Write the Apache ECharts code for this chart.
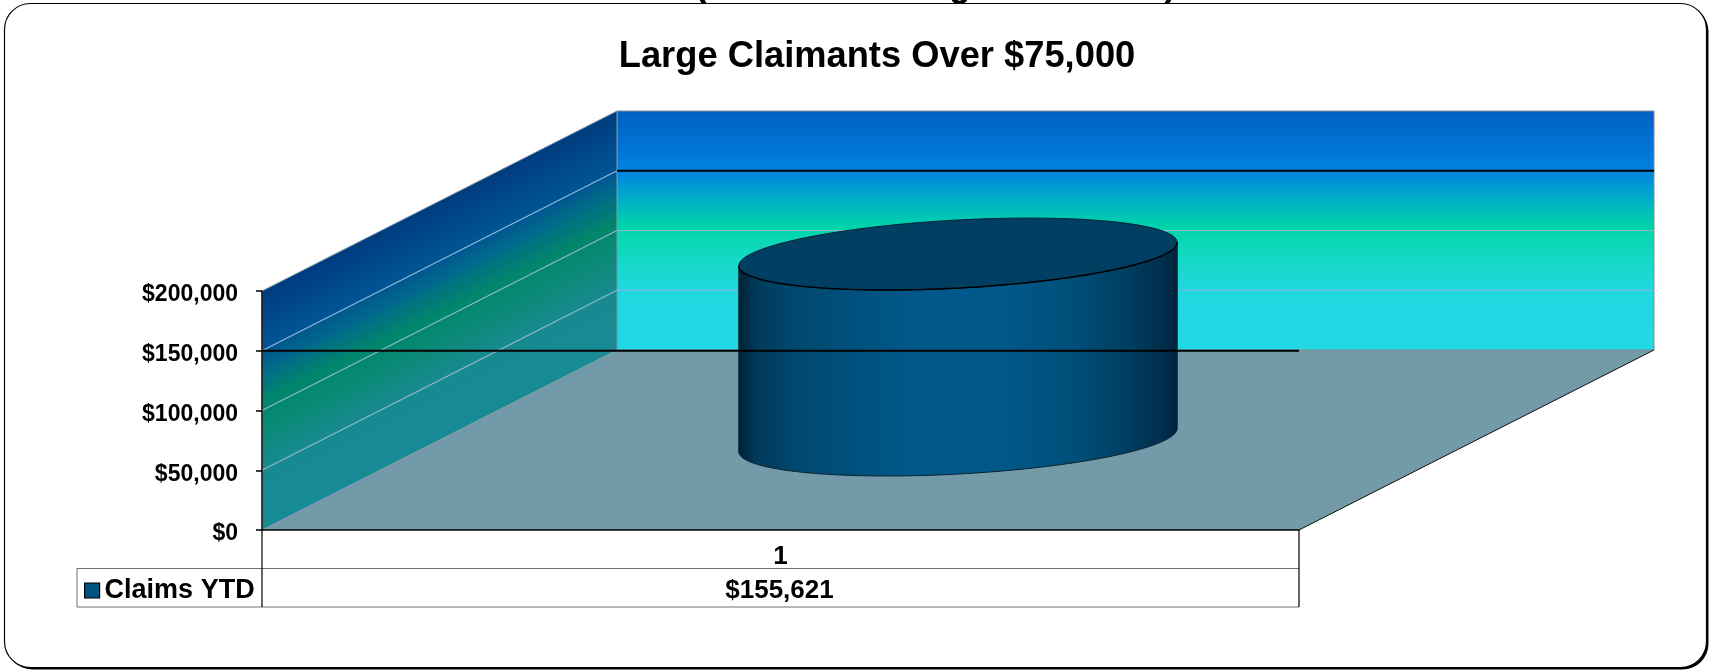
<!DOCTYPE html>
<html>
<head>
<meta charset="utf-8">
<title>Large Claimants Over $75,000</title>
<script src="https://cdn.jsdelivr.net/npm/echarts@6/dist/echarts.min.js"></script>
<style>
    html, body {margin: 0; padding: 0; background: #fff;}
    #chart {width: 1709px; height: 670px;}
</style>
</head>
<body>
<div id="chart"></div>
<script>
const chartTitle = 'Large Claimants Over $75,000';
const categories = ['1'];
const seriesName = 'Claims YTD';
const claimsYtd = [155621];
const yTicks = [0, 50000, 100000, 150000, 200000];
const darkTick = 150000;

const FONT = '"Liberation Sans", Arial, sans-serif';
// how far the back wall sits from the front plane, in px
const DEPTH_X = 355;
const DEPTH_Y = -180;
const ROW_H = 38.5;

const money = (v) => '$' + v.toLocaleString('en-US');

/**one-off: backdrop of the 3d box, it only needs the axes to place itself*/
function renderWalls(params, api) {
    const g = params.coordSys;
    const left = g.x, right = g.x + g.width, bottom = g.y + g.height, top = g.y;
    const back = (x, y) => [x + DEPTH_X, y + DEPTH_Y];
    const children = [];

    children.push({
        type: 'polygon',
        shape: {points: [[left, bottom], [right, bottom], back(right, bottom), back(left, bottom)]},
        style: {fill: '#729aa8'}
    });
    children.push({
        type: 'polygon',
        shape: {points: [back(left, top), back(right, top), back(right, bottom), back(left, bottom)]},
        style: {
            stroke: '#8a8a8a',
            lineWidth: 1,
            fill: {
                type: 'linear', global: true,
                x: 0, y: top + DEPTH_Y, x2: 0, y2: bottom + DEPTH_Y,
                colorStops: [
                    {offset: 0, color: '#0060c2'},
                    {offset: 0.25, color: '#0082e2'},
                    {offset: 0.3, color: '#0094d8'},
                    {offset: 0.39, color: '#00b6c4'},
                    {offset: 0.49, color: '#00d5a8'},
                    {offset: 0.55, color: '#0cd8b8'},
                    {offset: 0.65, color: '#18d8cc'},
                    {offset: 0.75, color: '#20d8e0'},
                    {offset: 1, color: '#22d8e4'}
                ]
            }
        }
    });
    // side wall: the gradient runs square to its slanted edges
    const edge = Math.sqrt(DEPTH_X * DEPTH_X + DEPTH_Y * DEPTH_Y);
    const span = g.height * DEPTH_X / edge;
    children.push({
        type: 'polygon',
        shape: {points: [[left, top], back(left, top), back(left, bottom), [left, bottom]]},
        style: {
            stroke: '#7f9aae',
            lineWidth: 1,
            fill: {
                type: 'linear', global: true,
                x: left, y: top,
                x2: left - DEPTH_Y / edge * span, y2: top + DEPTH_X / edge * span,
                colorStops: [
                    {offset: 0, color: '#003c7e'},
                    {offset: 0.24, color: '#005494'},
                    {offset: 0.34, color: '#006c88'},
                    {offset: 0.47, color: '#00876a'},
                    {offset: 0.6, color: '#0b8a78'},
                    {offset: 0.75, color: '#178a90'},
                    {offset: 1, color: '#188a94'}
                ]
            }
        }
    });

    yTicks.forEach((tick) => {
        if (tick === 0 || tick === yTicks[yTicks.length - 1]) {
            return;
        }
        const y = api.coord([0, tick])[1];
        const b = back(left, y);
        children.push({
            type: 'line',
            shape: {x1: left, y1: y, x2: b[0], y2: b[1]},
            style: {stroke: '#8fb6d8', lineWidth: 1.3}
        });
        children.push({
            type: 'line',
            shape: {x1: b[0], y1: b[1], x2: b[0] + g.width, y2: b[1]},
            style: tick === darkTick ? {stroke: '#000', lineWidth: 1.8} : {stroke: '#96aeda', lineWidth: 1.2}
        });
    });

    // right edge of the floor
    const fr = back(right, bottom);
    children.push({
        type: 'line',
        shape: {x1: right, y1: bottom, x2: fr[0], y2: fr[1]},
        style: {stroke: '#111', lineWidth: 1}
    });

    // data table under the axis
    [1, 2].forEach((row) => {
        const y = bottom + row * ROW_H;
        children.push({
            type: 'line',
            shape: {x1: left - 185, y1: y, x2: right, y2: y},
            style: {stroke: '#6e6e6e', lineWidth: 1.2}
        });
    });
    children.push({
        type: 'line',
        shape: {x1: left - 185, y1: bottom + ROW_H, x2: left - 185, y2: bottom + 2 * ROW_H},
        style: {stroke: '#6e6e6e', lineWidth: 1}
    });
    [left, right].forEach((x) => {
        children.push({
            type: 'line',
            shape: {x1: x, y1: bottom, x2: x, y2: bottom + 2 * ROW_H},
            style: {stroke: '#000', lineWidth: 1.2}
        });
    });

    return {type: 'group', children: children};
}

/**the cylinder, one per value, plus its table cell*/
function renderCylinder(params, api) {
    const value = api.value(1);
    const g = params.coordSys;
    const topPt = api.coord([api.value(0), value]);
    const basePt = api.coord([api.value(0), 0]);
    // same proportions as a gap width of 150%
    const ux = api.size([1, 0])[0] * 0.4 / 2;
    const vx = DEPTH_X * 0.2;
    const vy = DEPTH_Y * 0.2;
    const cx = topPt[0] + DEPTH_X / 2;
    const topY = topPt[1] + DEPTH_Y / 2;
    const baseY = basePt[1] + DEPTH_Y / 2;

    const ellipse = (cy, from, to) => {
        const pts = [];
        for (let i = 0; i <= 72; i++) {
            const t = from + (to - from) * i / 72;
            pts.push([cx + ux * Math.cos(t) + vx * Math.sin(t), cy + vy * Math.sin(t)]);
        }
        return pts;
    };
    // angle of the right extreme of the ellipse
    const t0 = Math.atan2(vx, ux);
    const halfW = Math.sqrt(ux * ux + vx * vx);

    const side = ellipse(baseY, t0, t0 - Math.PI).concat(ellipse(topY, t0 - Math.PI, t0));
    const dark = ellipse(topY, t0, t0 - Math.PI);

    const tableY = basePt[1] + ROW_H * 1.5 + 3;
    const lineY = api.coord([0, darkTick])[1];

    return {
        type: 'group',
        children: [
            {
                type: 'polygon',
                shape: {points: side},
                style: {
                    stroke: '#0b2230',
                    lineWidth: 1,
                    fill: {
                        type: 'linear', global: true,
                        x: cx - halfW, y: 0, x2: cx + halfW, y2: 0,
                        colorStops: [
                            {offset: 0, color: '#00223a'},
                            {offset: 0.04, color: '#003a5a'},
                            {offset: 0.14, color: '#004a70'},
                            {offset: 0.4, color: '#00588a'},
                            {offset: 0.6, color: '#00588a'},
                            {offset: 0.77, color: '#004e78'},
                            {offset: 0.88, color: '#003f62'},
                            {offset: 0.97, color: '#002e4a'},
                            {offset: 1, color: '#00233c'}
                        ]
                    }
                }
            },
            {
                type: 'polygon',
                shape: {points: ellipse(topY, 0, Math.PI * 2)},
                style: {fill: '#003f61', stroke: '#00223a', lineWidth: 1}
            },
            {
                type: 'polyline',
                shape: {points: dark},
                style: {fill: null, stroke: '#000', lineWidth: 1.4}
            },
            {
                // the 150k line runs over the bar
                type: 'line',
                shape: {x1: g.x, y1: lineY, x2: g.x + g.width, y2: lineY},
                style: {stroke: '#000', lineWidth: 1.8}
            },
            {
                type: 'text',
                style: {
                    text: money(value),
                    x: topPt[0] - 1,
                    y: tableY,
                    align: 'center',
                    verticalAlign: 'middle',
                    fill: '#000',
                    font: 'bold 26px ' + FONT
                }
            }
        ]
    };
}

const chart = echarts.init(document.getElementById('chart'));

const option = {
    animation: false,
    backgroundColor: '#fff',
    textStyle: {fontFamily: FONT},
    title: {
        text: chartTitle,
        left: 872,
        top: 34,
        textAlign: 'center',
        textStyle: {fontFamily: FONT, fontSize: 36.3, fontWeight: 'bold', color: '#000'}
    },
    legend: {
        data: [seriesName],
        left: 84,
        top: 577,
        padding: 0,
        icon: 'rect',
        itemWidth: 15,
        itemHeight: 15,
        selectedMode: false,
        itemStyle: {borderColor: '#000', borderWidth: 1.2},
        textStyle: {fontFamily: FONT, fontSize: 27, fontWeight: 'bold', color: '#000', padding: [0, 0, 0, 0]}
    },
    grid: {left: 262, top: 291, width: 1037, height: 239},
    xAxis: {
        type: 'category',
        data: categories,
        z: 10,
        axisTick: {show: false},
        axisLine: {lineStyle: {color: '#000', width: 1.5}},
        axisLabel: {color: '#000', fontFamily: FONT, fontSize: 26, fontWeight: 'bold', margin: 14}
    },
    yAxis: {
        type: 'value',
        min: yTicks[0],
        max: yTicks[yTicks.length - 1],
        interval: yTicks[1] - yTicks[0],
        z: 10,
        splitLine: {show: false},
        axisLine: {show: true, lineStyle: {color: '#111', width: 1.5}},
        axisTick: {show: true, length: 6, lineStyle: {color: '#000', width: 1.5}},
        axisLabel: {
            margin: 24,
            // labels sit a little under their ticks, the top padding pushes them down
            formatter: (v) => '{v|' + money(v) + '}',
            rich: {
                v: {color: '#000', fontFamily: FONT, fontSize: 23, fontWeight: 'bold', padding: [8, 0, 0, 0]}
            }
        }
    },
    graphic: [
        // thick bottom right corner: a black sheet peeking out behind the white one
        {
            type: 'rect',
            z: -2,
            shape: {x: 6.5, y: 5.5, width: 1702, height: 664, r: 26},
            style: {fill: '#000'}
        },
        {
            type: 'rect',
            z: -1,
            shape: {x: 4.5, y: 3.5, width: 1702, height: 664, r: 26},
            style: {fill: '#fff', stroke: '#000', lineWidth: 1.2}
        },
        // only the tails of the line above the chart are left in the picture
        {type: 'text', z: -3, style: {text: '(', x: 701, y: 4, align: 'center', verticalAlign: 'bottom', fill: '#000', font: 'bold 36px ' + FONT}},
        {type: 'text', z: -3, style: {text: 'g', x: 960, y: 4, align: 'center', verticalAlign: 'bottom', fill: '#000', font: 'bold 36px ' + FONT}},
        {type: 'text', z: -3, style: {text: ')', x: 1170, y: 4, align: 'center', verticalAlign: 'bottom', fill: '#000', font: 'bold 36px ' + FONT}}
    ],
    series: [
        {
            name: 'walls',
            type: 'custom',
            silent: true,
            z: 1,
            renderItem: renderWalls,
            data: [0]
        },
        {
            name: seriesName,
            type: 'custom',
            silent: true,
            z: 2,
            itemStyle: {color: '#00527f'},
            renderItem: renderCylinder,
            encode: {x: 0, y: 1},
            data: claimsYtd.map((v, i) => [i, v])
        }
    ]
};

chart.setOption(option);
</script>
</body>
</html>
